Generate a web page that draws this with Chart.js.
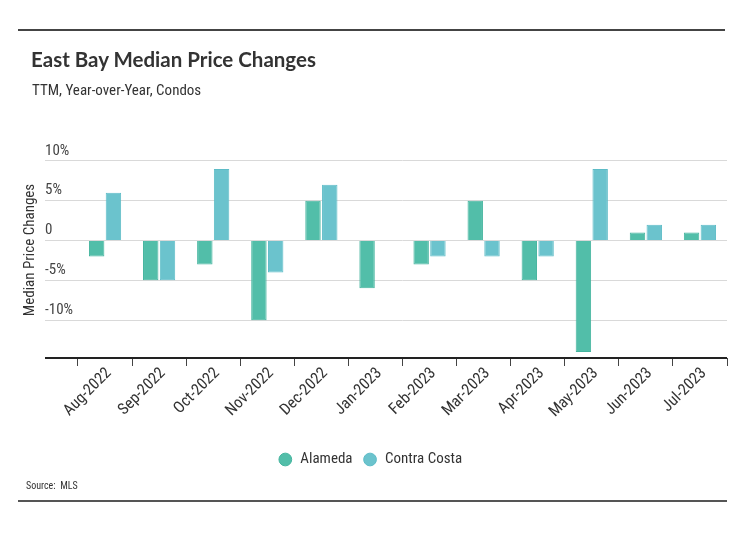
<!DOCTYPE html>
<html>
<head>
<meta charset="utf-8">
<script src="https://cdn.jsdelivr.net/npm/chart.js@4"></script>
<style>
  body { margin: 0; background: #fff; }
  #wrap { position: relative; width: 740px; height: 533px; overflow: hidden; }
  #chart { position: absolute; left: 0; top: 0; }
  .rule { position: absolute; left: 18px; width: 707px; height: 2px; background: #444; }
  #title { position: absolute; left: 31px; top: 47px; font: bold 20.5px Lato, sans-serif; color: #333; }
  #subtitle { position: absolute; left: 32px; top: 81px; font: 15px 'Roboto Condensed', sans-serif; color: #333; }
  #source { position: absolute; left: 26px; top: 480px; font: 10px 'Roboto Condensed', sans-serif; color: #333; }
</style>
</head>
<body>
<div id="wrap">
  <canvas id="chart" width="740" height="533"></canvas>
  <div class="rule" style="top:29px"></div>
  <div id="title">East Bay Median Price Changes</div>
  <div id="subtitle">TTM, Year-over-Year, Condos</div>
  <div id="source">Source:&nbsp; MLS</div>
  <div class="rule" style="top:500px; width:709px; background:#555"></div>
</div>
<script>
// Data
const months = ['Aug-2022', 'Sep-2022', 'Oct-2022', 'Nov-2022', 'Dec-2022', 'Jan-2023',
                'Feb-2023', 'Mar-2023', 'Apr-2023', 'May-2023', 'Jun-2023', 'Jul-2023'];
const alameda = [-2, -5, -3, -10, 5, -6, -3, 5, -5, -14, 1, 1];
const contraCosta = [6, -5, 9, -4, 7, null, -2, -2, -2, 9, 2, 2];
const yTicks = [-10, -5, 0, 5, 10];

const narrow = "'Roboto Condensed', sans-serif";

// y axis title, the x axis line (runs a bit left of the first category),
// and a small nudge of the legend so it sits centred on the page
const extras = {
    id: 'extras',
    afterLayout(chart) {
        chart.legend.left -= 16;
        chart.legend.right -= 16;
    },
    afterDraw(chart) {
        const ctx = chart.ctx;
        const area = chart.chartArea;
        ctx.save();
        ctx.strokeStyle = '#222';
        ctx.lineWidth = 2;
        ctx.beginPath();
        ctx.moveTo(45, area.bottom);
        ctx.lineTo(area.right, area.bottom);
        ctx.stroke();

        ctx.translate(30, 250);
        ctx.rotate(-Math.PI / 2);
        ctx.fillStyle = '#333';
        ctx.font = '15px ' + narrow;
        ctx.textAlign = 'center';
        ctx.textBaseline = 'middle';
        ctx.fillText('Median Price Changes', 0, 0);
        ctx.restore();
    }
};

const ctx = document.getElementById('chart').getContext('2d');
new Chart(ctx, {
    type: 'bar',
    data: {
        labels: months,
        datasets: [
            {
                label: 'Alameda',
                data: alameda,
                backgroundColor: '#52bea9',
                borderColor: '#44b49e',
                borderWidth: 1,
                barPercentage: 0.92,
                categoryPercentage: 0.62
            },
            {
                label: 'Contra Costa',
                data: contraCosta,
                backgroundColor: '#6bc3cd',
                borderColor: '#5dbcc7',
                borderWidth: 1,
                barPercentage: 0.92,
                categoryPercentage: 0.62
            }
        ]
    },
    options: {
        responsive: false,
        animation: false,
        layout: { padding: { left: 45, right: 13, top: 145, bottom: 56 } },
        plugins: {
            tooltip: { enabled: false },
            legend: {
                position: 'bottom',
                labels: {
                    usePointStyle: true,
                    pointStyle: 'circle',
                    boxHeight: 9,
                    padding: 10,
                    color: '#333',
                    font: { family: narrow, size: 15 }
                }
            }
        },
        scales: {
            x: {
                afterFit: s => { s.height = 84; },
                border: { display: false },
                grid: { offset: true, drawOnChartArea: false, tickLength: 8, color: '#444' },
                ticks: {
                    autoSkip: false,
                    minRotation: 45,
                    maxRotation: 45,
                    padding: -2,
                    labelOffset: 4,
                    color: '#333',
                    font: { family: narrow, size: 16 }
                }
            },
            y: {
                min: -14.75,
                max: 12,
                afterFit: s => { s.width = 33; },
                afterBuildTicks: s => { s.ticks = yTicks.map(v => ({ value: v })); },
                border: { display: false },
                grid: { color: '#d9d9d9', tickLength: 33, tickColor: '#d9d9d9' },
                ticks: {
                    crossAlign: 'far',
                    labelOffset: -10,
                    color: '#444',
                    font: { family: narrow, size: 15 },
                    callback: v => v === 0 ? '0' : v + '%'
                }
            }
        }
    },
    plugins: [extras]
});
</script>
</body>
</html>
